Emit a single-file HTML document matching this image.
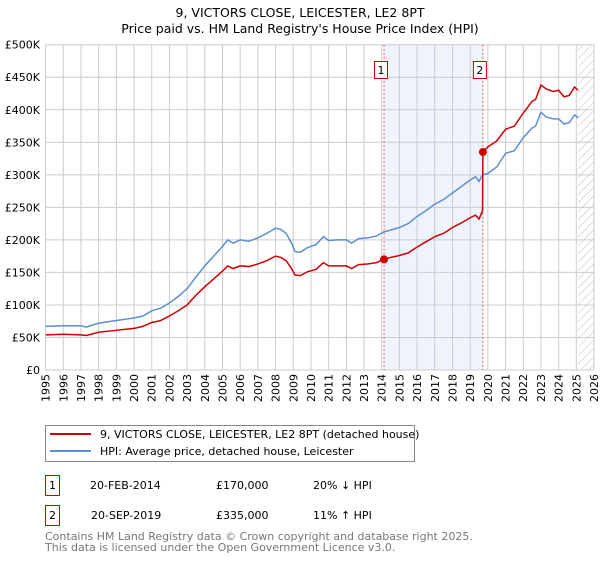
<!DOCTYPE html>
<html><head><meta charset="utf-8"><style>
body{margin:0;background:#fff;font-family:"Liberation Sans","DejaVu Sans",sans-serif;}
svg text{font-family:"DejaVu Sans","Liberation Sans",sans-serif;}
</style></head><body>
<svg id="chart" width="600" height="560" xmlns="http://www.w3.org/2000/svg">
<defs><pattern id="hatch" width="6" height="6" patternUnits="userSpaceOnUse" patternTransform="rotate(45)"><line x1="0" y1="0" x2="0" y2="6" stroke="#bbb" stroke-width="1"/></pattern></defs>
<text x="300" y="17" text-anchor="middle" font-size="12.5">9, VICTORS CLOSE, LEICESTER, LE2 8PT</text>
<text x="300" y="33" text-anchor="middle" font-size="12.5">Price paid vs. HM Land Registry's House Price Index (HPI)</text>
<g id="plot"></g>
<g>
<rect x="45.5" y="425.5" width="369" height="36" fill="#fff" stroke="#888"/>
<line x1="50" y1="434" x2="91" y2="434" stroke="#cc0000" stroke-width="2"/>
<text x="100" y="438" font-size="11">9, VICTORS CLOSE, LEICESTER, LE2 8PT (detached house)</text>
<line x1="50" y1="451" x2="91" y2="451" stroke="#5b8fd0" stroke-width="2"/>
<text x="100" y="455" font-size="11">HPI: Average price, detached house, Leicester</text>
</g>
<g font-size="11">
<rect x="45.5" y="475.5" width="14" height="20" fill="none" stroke="#cc0000"/><text x="52.5" y="489" text-anchor="middle">1</text>
<text x="90" y="489">20-FEB-2014</text><text x="216" y="489">£170,000</text><text x="313" y="489">20% ↓ HPI</text>
<rect x="45.5" y="505.5" width="14" height="20" fill="none" stroke="#cc0000"/><text x="52.5" y="519" text-anchor="middle">2</text>
<text x="91" y="519">20-SEP-2019</text><text x="216" y="519">£335,000</text><text x="313" y="519">11% ↑ HPI</text>
</g>
<text x="45" y="540" font-size="11" fill="#777">Contains HM Land Registry data © Crown copyright and database right 2025.</text>
<text x="45" y="551" font-size="11" fill="#777">This data is licensed under the Open Government Licence v3.0.</text>
</svg>
<script>
const hpiDates=[1995,1996,1997,1997.3,1998,1999,2000,2000.5,2001,2001.5,2002,2002.5,2003,2003.5,2004,2004.5,2005,2005.3,2005.6,2006,2006.5,2007,2007.5,2008,2008.3,2008.6,2008.9,2009.1,2009.4,2009.8,2010.3,2010.7,2011,2011.5,2012,2012.3,2012.7,2013.2,2013.7,2014.1,2014.5,2015,2015.5,2016,2016.5,2017,2017.5,2018,2018.5,2019,2019.3,2019.5,2019.7,2020,2020.5,2021,2021.5,2022,2022.5,2022.7,2023,2023.3,2023.7,2024,2024.3,2024.6,2024.9,2025.1];
const hpiValues=[67,68,68,66,72,76,80,83,91,95,103,113,125,143,160,175,190,200,195,200,198,203,210,218,216,210,195,182,181,188,193,205,199,200,200,195,202,203,206,212,215,219,225,236,245,255,262,272,282,292,297,290,300,302,312,333,337,357,372,375,396,389,386,386,378,380,392,388];
const priceDates=[1995,1996,1997,1997.3,1998,1999,2000,2000.5,2001,2001.5,2002,2002.5,2003,2003.5,2004,2004.5,2005,2005.3,2005.6,2006,2006.5,2007,2007.5,2008,2008.3,2008.6,2008.9,2009.1,2009.4,2009.8,2010.3,2010.7,2011,2011.5,2012,2012.3,2012.7,2013.2,2013.7,2014.1,2014.5,2015,2015.5,2016,2016.5,2017,2017.5,2018,2018.5,2019,2019.3,2019.5,2019.7,2019.72,2020,2020.5,2021,2021.5,2022,2022.5,2022.7,2023,2023.3,2023.7,2024,2024.3,2024.6,2024.9,2025.1];
const priceValues=[54,55,54,53,58,61,64,67,73,76,83,91,100,115,128,140,152,160,156,160,159,163,168,175,173,168,156,146,145,151,155,165,160,160,160,156,162,163,165,170,173,176,180,189,197,205,210,219,226,234,238,232,245,335,343,352,370,375,395,413,416,438,432,428,430,420,422,435,430];
const saleDates=[2014.13,2019.72];
const saleValues=[170,335];
const saleLabels=["1","2"];
const yTicks=[0,50,100,150,200,250,300,350,400,450,500];
const yTickLabels=["£0","£50K","£100K","£150K","£200K","£250K","£300K","£350K","£400K","£450K","£500K"];
const xYears=[1995,1996,1997,1998,1999,2000,2001,2002,2003,2004,2005,2006,2007,2008,2009,2010,2011,2012,2013,2014,2015,2016,2017,2018,2019,2020,2021,2022,2023,2024,2025,2026];

const X0=45.6,X1=594,Y0=370,Y1=44.7;
const x=t=>X0+(t-1995)*(X1-X0)/31;
const y=v=>Y0-v*(Y0-Y1)/500;
const NS="http://www.w3.org/2000/svg";
const g=document.getElementById('plot');
function mk(tag,attrs,parent){const e=document.createElementNS(NS,tag);for(const k in attrs)e.setAttribute(k,attrs[k]);(parent||g).appendChild(e);return e;}

let e=mk('rect',{x:x(saleDates[0]),y:Y1,width:x(saleDates[1])-x(saleDates[0]),height:Y0-Y1,fill:'#eef3fc'});


e=mk('rect',{x:x(2025.1),y:Y1,width:X1-x(2025.1),height:Y0-Y1,fill:'url(#hatch)'});


xYears.forEach(t=>{
  const l=mk('line',{x1:x(t),x2:x(t),y1:Y1,y2:Y0,stroke:'#ccc','stroke-width':1});
  
  
  const tx=mk('text',{x:0,y:0,'font-size':11,'text-anchor':'end',transform:`translate(${x(t)+4},${Y0+4}) rotate(-90)`});
  tx.textContent=t;
  
  
});
yTicks.forEach((v,i)=>{
  const l=mk('line',{x1:X0,x2:X1,y1:y(v),y2:y(v),stroke:'#ccc','stroke-width':1});
  
  
  const tx=mk('text',{x:40,y:y(v)+4,'font-size':11,'text-anchor':'end'});
  tx.textContent=yTickLabels[i];
  
  
});
saleDates.forEach((d,i)=>{
  const l=mk('line',{x1:x(d),x2:x(d),y1:Y1,y2:Y0,stroke:'#e06060','stroke-width':1,'stroke-dasharray':'2,2'});
  
  
  const r=mk('rect',{x:x(d)-9.5,y:61.5,width:13,height:17,fill:'#fff',stroke:'#cc0000'});
  
  
  const tx=mk('text',{x:x(d)-3,y:74,'font-size':11,'text-anchor':'middle'});
  tx.textContent=saleLabels[i];
  
  
});
const hp=mk('polyline',{points:hpiDates.map((d,i)=>x(d)+','+y(hpiValues[i])).join(' '),fill:'none',stroke:'#5b8fd0','stroke-width':1.5});


const pp=mk('polyline',{points:priceDates.map((d,i)=>x(d)+','+y(priceValues[i])).join(' '),fill:'none',stroke:'#cc0000','stroke-width':1.5});


saleDates.forEach((d,i)=>{
  const c=mk('circle',{cx:x(d),cy:y(saleValues[i]),r:4,fill:'#cc0000'});
  
  
});
</script>
</body></html>
